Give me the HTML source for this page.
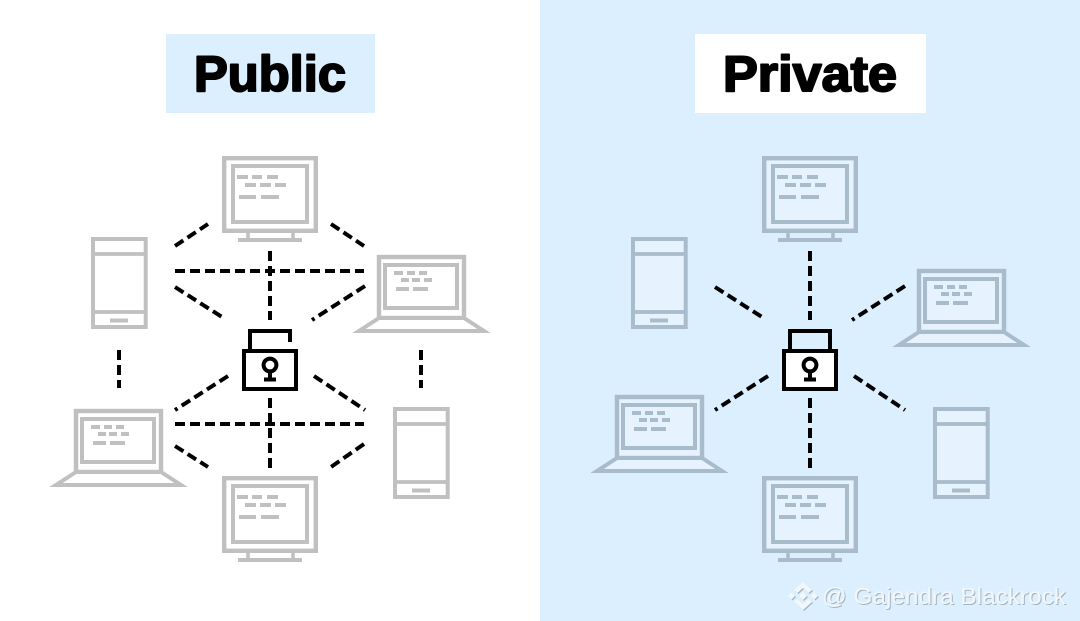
<!DOCTYPE html>
<html><head><meta charset="utf-8"><style>
html,body{margin:0;padding:0;background:#fff}
svg{display:block}
.t{font-family:"Liberation Sans",sans-serif;font-weight:700;font-size:50px;fill:#000;stroke:#000;stroke-width:2px;stroke-linejoin:round}
.w{font-family:"Liberation Sans",sans-serif;font-size:23px}
.d{fill:none;stroke:#000;stroke-width:4;stroke-dasharray:10 5}
</style></head><body>
<svg width="1080" height="621" viewBox="0 0 1080 621" xmlns="http://www.w3.org/2000/svg">
<defs>
<g id="mon">
<rect x="2.200" y="2.200" width="91.600" height="72.600" fill="var(--f)" stroke="currentColor" stroke-width="4.400"/>
<rect x="11" y="10" width="74" height="56" fill="var(--f)" stroke="currentColor" stroke-width="4"/>
<path d="M26 77v7M71 77v7" stroke="currentColor" stroke-width="3.500" fill="none"/>
<rect x="16" y="82" width="64" height="4" fill="currentColor"/>
<g fill="currentColor">
<rect x="15" y="19" width="11" height="4"/><rect x="30" y="19" width="10" height="4"/><rect x="45" y="19" width="11" height="4"/>
<rect x="23" y="27" width="11" height="4"/><rect x="38" y="27" width="11" height="4"/><rect x="53" y="27" width="11" height="4"/>
<rect x="17" y="39" width="17" height="4"/><rect x="39" y="39" width="18" height="4"/>
</g>
</g>
<g id="lap">
<rect x="27" y="2" width="85" height="61" fill="var(--f)" stroke="currentColor" stroke-width="4.400"/>
<rect x="33" y="10" width="72" height="43" fill="var(--f)" stroke="currentColor" stroke-width="4"/>
<path d="M27 63H112L132 76H7Z" fill="var(--f)" stroke="currentColor" stroke-width="4"/>
<g fill="currentColor">
<rect x="42" y="16" width="9" height="4"/><rect x="55" y="16" width="8" height="4"/><rect x="67" y="16" width="8" height="4"/>
<rect x="49" y="23" width="8" height="4"/><rect x="60" y="23" width="8" height="4"/><rect x="72" y="23" width="8" height="4"/>
<rect x="44" y="32" width="13" height="4"/><rect x="61" y="32" width="15" height="4"/>
</g>
</g>
<g id="ph">
<rect x="2" y="1" width="52.700" height="88" fill="var(--f)" stroke="currentColor" stroke-width="4"/>
<path d="M2 16H55M2 74H55" stroke="currentColor" stroke-width="3.800" fill="none"/>
<rect x="19" y="80.500" width="18" height="4" fill="currentColor"/>
</g>
<g id="lockbody">
<rect x="244" y="351" width="52" height="38" fill="#fff" stroke="#000" stroke-width="4"/>
<circle cx="270" cy="365" r="6.400" fill="#fff" stroke="#000" stroke-width="4"/>
<path d="M270 371V379" stroke="#000" stroke-width="4"/>
<rect x="264" y="377.500" width="12" height="4" fill="#000"/>
</g>
<g id="dv" class="d"><path d="M270 251V320M270 398V470"/><path d="M175 287L222 317M365 286L312 320M228 376L175 410M314 376L365 410"/></g>
</defs>

<rect x="0" y="0" width="1080" height="621" fill="#fff"/>
<rect x="540" y="0" width="540" height="621" fill="#dcefff"/>
<rect x="166" y="34" width="209" height="79" fill="#dcefff"/>
<rect x="695" y="34" width="231" height="79" fill="#fff"/>
<text class="t" x="194" y="91" textLength="152" lengthAdjust="spacingAndGlyphs">Public</text>
<text class="t" x="723" y="91" textLength="174" lengthAdjust="spacingAndGlyphs">Private</text>

<!-- public -->
<g style="color:#c0c0c0;--f:#fff">
<use href="#mon" x="222" y="156"/>
<use href="#mon" x="222" y="476"/>
<use href="#lap" x="352" y="255"/>
<use href="#lap" x="49" y="409"/>
<use href="#ph" x="91" y="238"/>
<use href="#ph" x="393" y="408"/>
</g>
<use href="#dv"/>
<g class="d">
<path d="M175 246L208 224M331 224L364 246M175 271H364M119 350V388M421 350V388M175 424H364M175 446L208 467M364 444L331 467"/>
</g>
<path d="M250 350V331H290V342" fill="none" stroke="#000" stroke-width="4"/>
<use href="#lockbody"/>

<!-- private -->
<g style="color:#a9bccb;--f:#e6f3ff">
<use href="#mon" x="762" y="156"/>
<use href="#mon" x="762" y="476"/>
<use href="#lap" x="892" y="269"/>
<use href="#lap" x="590" y="395"/>
<use href="#ph" x="631" y="238"/>
<use href="#ph" x="933" y="408"/>
</g>
<use href="#dv" x="540"/>
<path d="M790 350V331H830V350" fill="none" stroke="#000" stroke-width="4"/>
<use href="#lockbody" x="540"/>

<!-- watermark -->
<g transform="translate(1,1)" fill="#a8b3bd">
<path d="M803 582l9 8-3.500 3-5.500-5-5.500 5-3.500-3z"/>
<path d="M791.500 592.500l3.500 3.500-3.500 3.500-3.500-3.500z"/>
<path d="M814.500 592.500l3.500 3.500-3.500 3.500-3.500-3.500z"/>
<path d="M803 592l4 4-4 4-4-4z"/>
<path d="M803 610l-9-8 3.500-3 5.500 5 5.500-5 3.500 3z"/>
</g>
<g fill="#f2f7fc">
<path d="M803 582l9 8-3.500 3-5.500-5-5.500 5-3.500-3z"/>
<path d="M791.500 592.500l3.500 3.500-3.500 3.500-3.500-3.500z"/>
<path d="M814.500 592.500l3.500 3.500-3.500 3.500-3.500-3.500z"/>
<path d="M803 592l4 4-4 4-4-4z"/>
<path d="M803 610l-9-8 3.500-3 5.500 5 5.500-5 3.500 3z"/>
</g>
<text class="w" x="823" y="605" textLength="244" lengthAdjust="spacingAndGlyphs" fill="#a8b3bd">@ Gajendra Blackrock</text>
<text class="w" x="822" y="604" textLength="244" lengthAdjust="spacingAndGlyphs" fill="#f2f7fc">@ Gajendra Blackrock</text>
</svg>
</body></html>
